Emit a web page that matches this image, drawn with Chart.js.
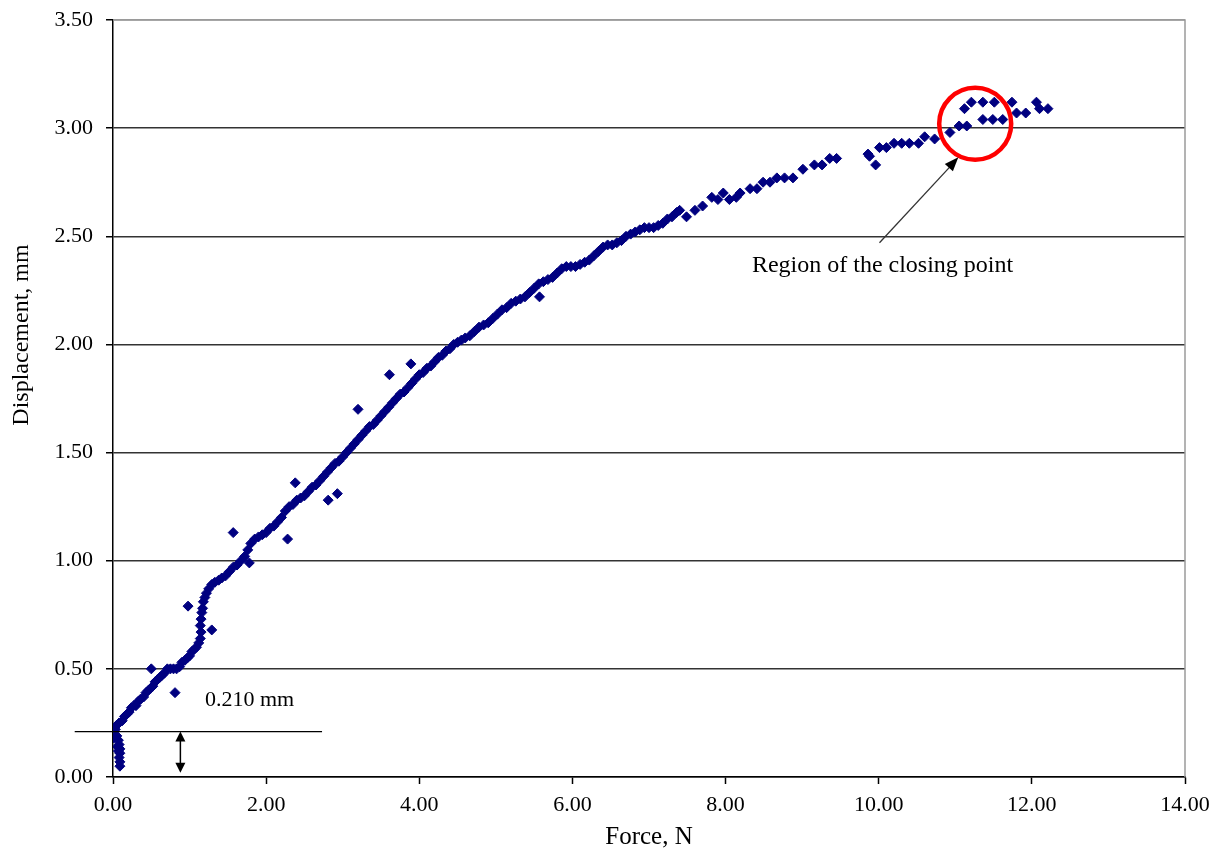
<!DOCTYPE html>
<html>
<head>
<meta charset="utf-8">
<script src="https://cdn.jsdelivr.net/npm/chart.js@4/dist/chart.umd.min.js"></script>
<style>
	html, body { margin: 0; padding: 0; background: #ffffff; }
	#wrap { width: 1223px; height: 854px; }
</style>
</head>
<body>
<div id="wrap"><canvas id="chart_main" width="1223" height="854"></canvas></div>
<script>
//data---------------------------------------
var arr_force = [
	0.01, 0.05, 0.07, 0.08, 0.09, 0.09, 0.08, 0.09, 0.09, 0.07, 0.06,
	0.03, 0.05, 0.08, 0.12, 0.15, 0.18, 0.21, 0.24, 0.27, 0.30, 0.33, 0.36, 0.40, 0.43, 0.46, 0.49,
	0.52, 0.55, 0.58, 0.61, 0.64, 0.67, 0.71, 0.75, 0.79, 0.83, 0.87, 0.90, 0.94, 0.97, 1.00, 1.03,
	1.06, 1.09, 1.12, 1.14, 1.15, 1.14, 1.15, 1.16, 1.17, 1.18, 1.20, 1.22, 1.25, 1.29, 1.33, 1.38,
	1.42, 1.47, 1.52, 1.57, 1.62, 1.67, 1.72, 1.76, 1.80, 1.85, 1.90, 1.95, 2.00, 2.05, 2.10, 2.15,
	2.20, 2.25, 2.30, 2.35, 2.40, 2.45, 2.50, 2.55, 2.60, 2.65, 2.70, 2.75, 2.80, 2.85, 2.90, 2.95,
	3.00, 3.05, 3.10, 3.15, 3.20, 3.25, 3.30, 3.35, 3.40, 3.45, 3.50, 3.55, 3.60, 3.65, 3.70, 3.75,
	3.80, 3.85, 3.90, 3.95, 4.00, 4.05, 4.10, 4.15, 4.20, 4.25, 4.30, 4.35, 4.40, 4.45, 4.50, 4.55,
	4.60, 4.66, 4.72, 4.78, 4.84, 4.90, 4.96, 5.02, 5.08, 5.14, 5.20, 5.26, 5.32, 5.38, 5.44, 5.50,
	5.56, 5.62, 5.68, 5.74, 5.80, 5.86, 5.92, 5.98, 6.04, 6.10, 6.16, 6.22, 6.28, 6.34, 6.40, 6.46,
	6.52, 6.58, 6.64, 6.70, 6.76, 6.82, 6.88, 6.94, 7.00, 7.06, 7.12, 7.18, 7.24, 7.30, 7.36, 7.40,
	7.49, 7.60, 7.70, 7.82, 7.90, 7.97, 8.05, 8.14, 8.19, 8.32, 8.41, 8.49, 8.58, 8.67, 8.77, 8.88,
	9.01, 9.16, 9.26, 9.36, 9.45, 9.86, 9.88, 9.96, 10.01, 10.10, 10.20, 10.30, 10.40, 10.52, 10.60,
	10.73, 10.93, 11.05, 11.15, 11.12, 11.21, 11.36, 11.51, 11.74, 11.36, 11.49, 11.62, 11.80, 11.92,
	12.06, 12.10, 12.21,
	//scattered points off the curve
	0.50, 0.81, 0.98, 1.29, 1.57, 1.78, 2.28, 2.38, 2.81, 2.93, 3.20, 3.61, 3.89, 5.57
];
var arr_disp = [
	0.18, 0.19, 0.17, 0.15, 0.13, 0.11, 0.09, 0.07, 0.05, 0.12, 0.14,
	0.22, 0.24, 0.25, 0.26, 0.28, 0.29, 0.30, 0.32, 0.33, 0.33, 0.35, 0.36, 0.37, 0.39, 0.40, 0.41,
	0.42, 0.44, 0.45, 0.46, 0.47, 0.48, 0.50, 0.50, 0.50, 0.50, 0.51, 0.53, 0.54, 0.55, 0.56, 0.58,
	0.59, 0.60, 0.62, 0.64, 0.67, 0.70, 0.73, 0.76, 0.78, 0.81, 0.83, 0.85, 0.87, 0.89, 0.90, 0.91,
	0.92, 0.93, 0.95, 0.97, 0.98, 1.00, 1.02, 1.05, 1.08, 1.10, 1.11, 1.12, 1.13, 1.15, 1.16, 1.18,
	1.20, 1.23, 1.25, 1.26, 1.28, 1.29, 1.30, 1.32, 1.34, 1.35, 1.37, 1.39, 1.41, 1.43, 1.45, 1.46,
	1.48, 1.50, 1.52, 1.54, 1.56, 1.58, 1.60, 1.62, 1.63, 1.65, 1.67, 1.69, 1.71, 1.73, 1.75, 1.77,
	1.78, 1.80, 1.82, 1.84, 1.86, 1.87, 1.89, 1.90, 1.92, 1.94, 1.95, 1.97, 1.98, 2.00, 2.01, 2.02,
	2.03, 2.04, 2.06, 2.08, 2.09, 2.10, 2.12, 2.14, 2.16, 2.17, 2.19, 2.20, 2.21, 2.22, 2.24, 2.26,
	2.28, 2.29, 2.30, 2.31, 2.33, 2.35, 2.36, 2.36, 2.36, 2.37, 2.38, 2.39, 2.41, 2.43, 2.45, 2.46,
	2.46, 2.47, 2.48, 2.50, 2.51, 2.52, 2.53, 2.54, 2.54, 2.54, 2.55, 2.56, 2.58, 2.59, 2.61, 2.62,
	2.59, 2.62, 2.64, 2.68, 2.67, 2.70, 2.67, 2.68, 2.70, 2.72, 2.72, 2.75, 2.75, 2.77, 2.77, 2.77,
	2.81, 2.83, 2.83, 2.86, 2.86, 2.88, 2.87, 2.83, 2.91, 2.91, 2.93, 2.93, 2.93, 2.93, 2.96,
	2.95, 2.98, 3.01, 3.01, 3.09, 3.12, 3.12, 3.12, 3.12, 3.04, 3.04, 3.04, 3.07, 3.07,
	3.12, 3.09, 3.09,
	0.50, 0.39, 0.79, 0.68, 1.13, 0.99, 1.10, 1.36, 1.28, 1.31, 1.70, 1.86, 1.91, 2.22
];
var arr_xTicks = [0, 2, 4, 6, 8, 10, 12, 14];
var arr_yTicks = [0, 0.5, 1, 1.5, 2, 2.5, 3, 3.5];

const xTitle = "Force, N";
const yTitle = "Displacement, mm";
const noteGap = "0.210 mm";
const noteClose = "Region of the closing point";
const serif = "'Liberation Serif', 'Times New Roman', serif";

//build the points---------------
var arr_points = new Array();
for (var i = 0; i < arr_force.length; i++) {
	arr_points.push({ x: arr_force[i], y: arr_disp[i] });
}

//arrow head helper
function DrawHead(ctx, x1, y1, x2, y2, len, wid) {
	var ang = Math.atan2(y2 - y1, x2 - x1);
	ctx.beginPath();
	ctx.moveTo(x2, y2);
	ctx.lineTo(x2 - len * Math.cos(ang) + wid * Math.sin(ang), y2 - len * Math.sin(ang) - wid * Math.cos(ang));
	ctx.lineTo(x2 - len * Math.cos(ang) - wid * Math.sin(ang), y2 - len * Math.sin(ang) + wid * Math.cos(ang));
	ctx.closePath();
	ctx.fill();
}

//notes, circle, arrows and plot frame
const notesPlugin = {
	id: 'notes',
	afterDatasetsDraw: function (chart) {
		var ctx = chart.ctx;
		var xs = chart.scales.x;
		var ys = chart.scales.y;
		var area = chart.chartArea;
		ctx.save();

		//grey frame on top and right
		ctx.strokeStyle = '#9a9a9a';
		ctx.lineWidth = 1.5;
		ctx.beginPath();
		ctx.moveTo(area.left, area.top);
		ctx.lineTo(area.right, area.top);
		ctx.lineTo(area.right, area.bottom);
		ctx.stroke();

		//0.210 mm level line
		var yGap = ys.getPixelForValue(0.21);
		ctx.strokeStyle = '#000000';
		ctx.lineWidth = 1.2;
		ctx.beginPath();
		ctx.moveTo(xs.getPixelForValue(-0.5), yGap);
		ctx.lineTo(xs.getPixelForValue(2.73), yGap);
		ctx.stroke();

		//double arrow
		var xa = xs.getPixelForValue(0.88);
		var yBot = ys.getPixelForValue(0.02);
		ctx.lineWidth = 1.5;
		ctx.beginPath();
		ctx.moveTo(xa, yGap + 8);
		ctx.lineTo(xa, yBot - 8);
		ctx.stroke();
		ctx.fillStyle = '#000000';
		DrawHead(ctx, xa, yBot, xa, yGap, 10, 5);
		DrawHead(ctx, xa, yGap, xa, yBot, 10, 5);

		ctx.font = '22px ' + serif;
		ctx.textAlign = 'left';
		ctx.textBaseline = 'middle';
		ctx.fillText(noteGap, xs.getPixelForValue(1.20), ys.getPixelForValue(0.355));

		//red circle
		ctx.strokeStyle = '#ff0000';
		ctx.lineWidth = 4.5;
		ctx.beginPath();
		ctx.arc(xs.getPixelForValue(11.26), ys.getPixelForValue(3.02), 36, 0, Math.PI * 2);
		ctx.stroke();

		//pointer arrow
		var ax1 = xs.getPixelForValue(10.01), ay1 = ys.getPixelForValue(2.47);
		var ax2 = xs.getPixelForValue(11.04), ay2 = ys.getPixelForValue(2.865);
		ctx.strokeStyle = '#333333';
		ctx.lineWidth = 1.3;
		ctx.beginPath();
		ctx.moveTo(ax1, ay1);
		ctx.lineTo(ax2 - 8, ay2 + 9);
		ctx.stroke();
		ctx.fillStyle = '#000000';
		DrawHead(ctx, ax1, ay1, ax2, ay2, 14, 5.5);

		ctx.font = '24px ' + serif;
		ctx.textAlign = 'center';
		ctx.fillText(noteClose, xs.getPixelForValue(10.05), ys.getPixelForValue(2.365));

		//y title
		ctx.translate(22, 335);
		ctx.rotate(-Math.PI / 2);
		ctx.font = '24px ' + serif;
		ctx.fillText(yTitle, 0, 0);

		ctx.restore();
	}
};

const config_scatter = {
	type: 'scatter',
	data: {
		datasets: [{
			label: 'Displacement',
			data: arr_points,
			pointStyle: 'rectRot',
			pointRadius: 5,
			pointHoverRadius: 5,
			backgroundColor: '#000080',
			borderColor: '#000080',
			borderWidth: 1
		}]
	},
	options: {
		responsive: false,
		animation: false,
		layout: {
			padding: { top: 20, right: 38, left: 0, bottom: 0 }
		},
		plugins: {
			legend: { display: false },
			tooltip: { enabled: false }
		},
		scales: {
			x: {
				type: 'linear',
				min: 0,
				max: 14,
				afterFit: function (scale) {
					scale.height = 77;
					scale.paddingLeft = 0;
					scale.paddingRight = 0;
				},
				afterBuildTicks: function (scale) {
					scale.ticks = arr_xTicks.map(function (v) { return { value: v }; });
				},
				ticks: {
					padding: 8,
					color: '#000000',
					font: { size: 22, family: serif },
					callback: function (v) { return Number(v).toFixed(2); }
				},
				grid: {
					drawOnChartArea: false,
					drawTicks: true,
					tickLength: 7,
					tickColor: '#000000',
					tickWidth: 1.5
				},
				border: { display: true, color: '#000000', width: 1.5 },
				title: {
					display: true,
					text: xTitle,
					color: '#000000',
					padding: { top: 2, bottom: 2 },
					font: { size: 25, family: serif }
				}
			},
			y: {
				type: 'linear',
				min: 0,
				max: 3.5,
				afterFit: function (scale) {
					scale.width = 113;
					scale.paddingTop = 0;
					scale.paddingBottom = 0;
				},
				afterBuildTicks: function (scale) {
					scale.ticks = arr_yTicks.map(function (v) { return { value: v }; });
				},
				ticks: {
					padding: 13,
					color: '#000000',
					font: { size: 22, family: serif },
					callback: function (v) { return Number(v).toFixed(2); }
				},
				grid: {
					color: function (c) { return (c.tick && c.tick.value === 3.5) ? '#9a9a9a' : '#333333'; },
					lineWidth: 1.5,
					drawTicks: true,
					tickLength: 7,
					tickColor: '#000000',
					tickWidth: 1.5
				},
				border: { display: true, color: '#000000', width: 1.5 }
			}
		}
	},
	plugins: [notesPlugin]
};

window.onload = function () {
	new Chart(document.getElementById('chart_main'), config_scatter);
};
</script>
</body>
</html>
